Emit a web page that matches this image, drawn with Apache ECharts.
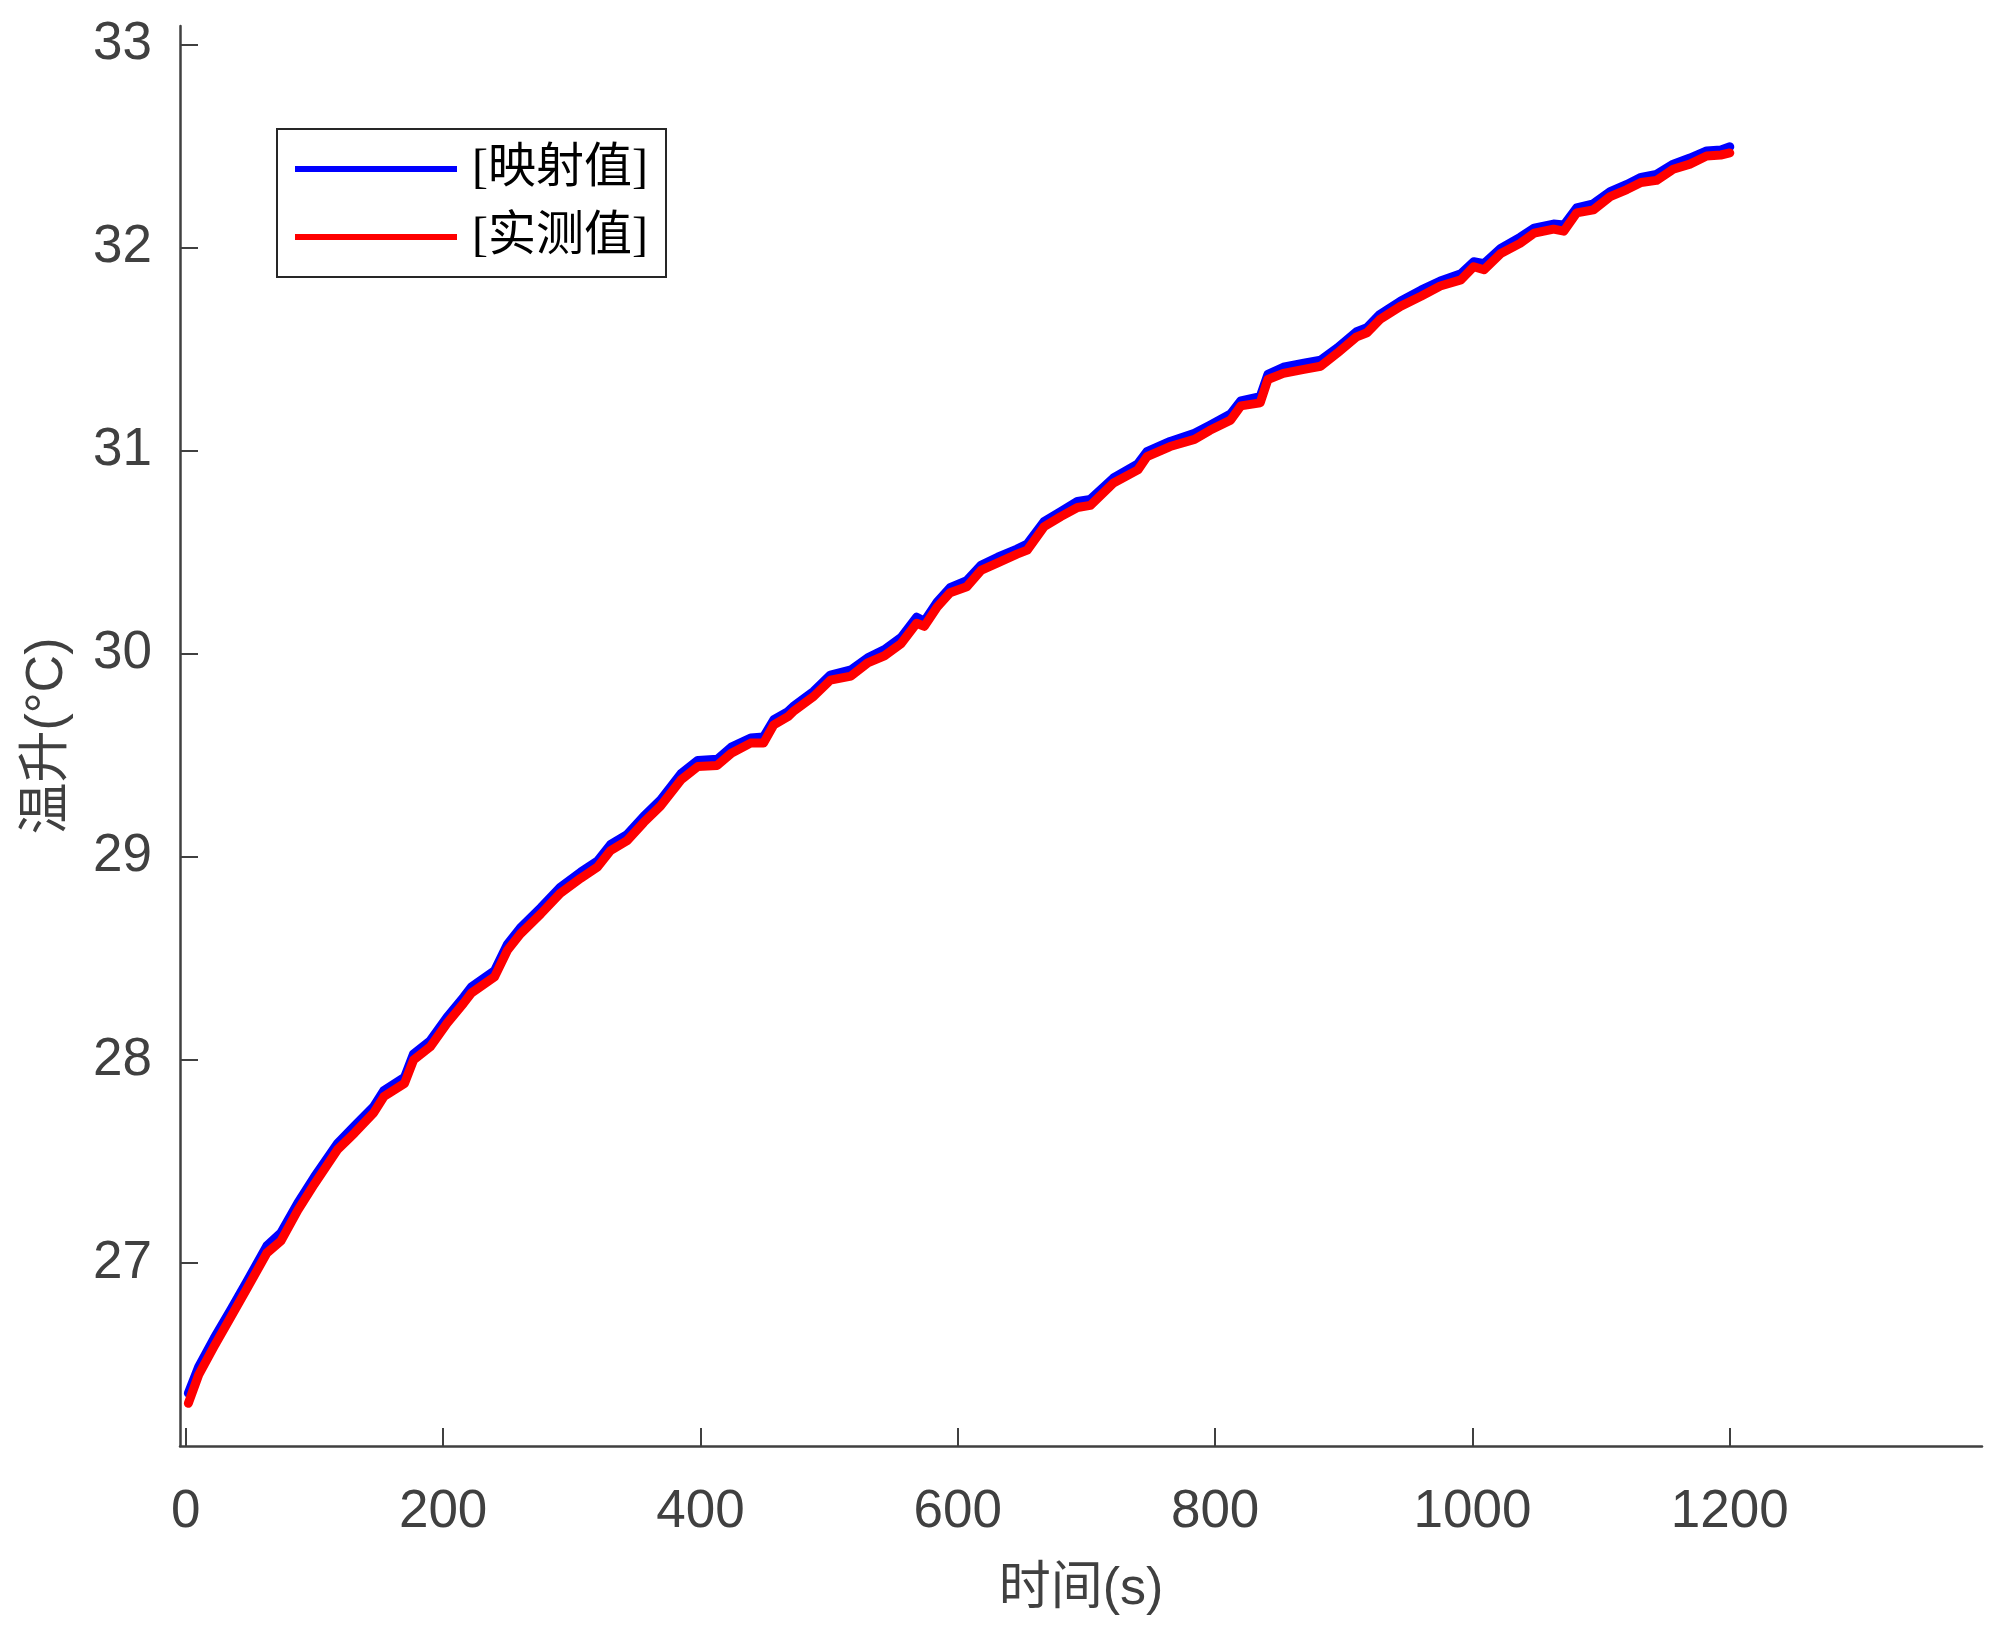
<!DOCTYPE html>
<html>
<head>
<meta charset="utf-8">
<script src="https://cdn.jsdelivr.net/npm/echarts@6/dist/echarts.min.js"></script>
<style>
  html, body { margin: 0; padding: 0; background: #fff; }
  #view { width: 2000px; height: 1638px; }
</style>
</head>
<body>
<div id="view"></div>
<script>
// time (s)
let timeList = [2, 10, 22, 35, 48, 63, 74, 87, 100, 118, 131, 146, 154, 170, 177, 190, 203, 216, 222, 240,
  250, 260, 276, 291, 307, 320, 330, 343, 356, 369, 385, 398, 413, 424, 439, 449, 457, 468, 473, 488,
  501, 517, 530, 543, 556, 568, 574, 584, 594, 607, 618, 631, 646, 654, 667, 680, 693, 703, 721, 740,
  747, 765, 784, 796, 812, 820, 835, 841, 853, 869, 882, 895, 910, 918, 928, 944, 960, 975, 991, 1001,
  1009, 1022, 1037, 1048, 1063, 1071, 1081, 1094, 1107, 1120, 1131, 1143, 1156, 1169, 1182, 1193, 1200];

// 映射值
let mapList = [26.36, 26.49, 26.63, 26.77, 26.915, 27.085, 27.15, 27.295, 27.425, 27.59, 27.675, 27.77, 27.85, 27.915, 28.03, 28.095, 28.21, 28.31, 28.36, 28.44,
  28.57, 28.65, 28.75, 28.85, 28.925, 28.98, 29.06, 29.11, 29.2, 29.28, 29.41, 29.475, 29.48, 29.54, 29.585, 29.59, 29.675, 29.715, 29.745, 29.815,
  29.895, 29.92, 29.98, 30.02, 30.08, 30.18, 30.16, 30.255, 30.325, 30.36, 30.435, 30.475, 30.515, 30.54, 30.65, 30.7, 30.75, 30.76, 30.865, 30.935,
  30.995, 31.045, 31.085, 31.125, 31.18, 31.245, 31.265, 31.375, 31.41, 31.43, 31.445, 31.505, 31.585, 31.605, 31.67, 31.735, 31.79, 31.835, 31.87, 31.93,
  31.92, 31.995, 32.05, 32.095, 32.115, 32.11, 32.195, 32.215, 32.275, 32.31, 32.345, 32.36, 32.41, 32.44, 32.475, 32.48, 32.495];

// 实测值
let measureList = [26.31, 26.45, 26.59, 26.735, 26.88, 27.05, 27.11, 27.26, 27.39, 27.56, 27.64, 27.74, 27.82, 27.885, 28.0, 28.065, 28.18, 28.28, 28.33, 28.41,
  28.54, 28.62, 28.72, 28.82, 28.895, 28.95, 29.03, 29.08, 29.17, 29.25, 29.38, 29.445, 29.45, 29.51, 29.56, 29.56, 29.65, 29.69, 29.72, 29.79,
  29.87, 29.89, 29.955, 29.99, 30.05, 30.15, 30.135, 30.23, 30.3, 30.33, 30.41, 30.447, 30.49, 30.51, 30.625, 30.675, 30.72, 30.73, 30.84, 30.905,
  30.97, 31.02, 31.055, 31.1, 31.15, 31.22, 31.235, 31.35, 31.38, 31.4, 31.415, 31.48, 31.56, 31.58, 31.645, 31.71, 31.76, 31.81, 31.84, 31.905,
  31.89, 31.97, 32.02, 32.07, 32.09, 32.08, 32.17, 32.185, 32.25, 32.285, 32.32, 32.33, 32.385, 32.41, 32.45, 32.455, 32.465];

let xTicks = [0, 200, 400, 600, 800, 1000, 1200];
let yTicks = [27, 28, 29, 30, 31, 32, 33];

let myChart = echarts.init(document.getElementById("view"));

let mapS = { name: "[映射值]", type: "line", data: [] };
let measureS = { name: "[实测值]", type: "line", data: [] };
timeList.forEach((t, i) => {
  mapS.data.push([t, mapList[i]]);
  measureS.data.push([t, measureList[i]]);
});

let axisColor = "#404040";
let numFont = "'Liberation Sans', Arial, sans-serif";

[mapS, measureS].forEach((s, i) => {
  s.showSymbol = false;
  s.animation = false;
  s.z = 2 + i;
  s.lineStyle = {
    color: i === 0 ? "#0000ff" : "#ff0000",
    width: 9,
    cap: "round",
    join: "round",
  };
  s.itemStyle = { color: i === 0 ? "#0000ff" : "#ff0000" };
});

let option = {
  backgroundColor: "#ffffff",
  animation: false,
  grid: {
    left: 180,
    right: 18,
    top: 26,
    bottom: 192,
    containLabel: false,
    outerBoundsMode: "none",
  },
  legend: {
    orient: "vertical",
    left: 277,
    top: 129,
    padding: [14, 16, 14, 18],
    itemGap: 16,
    itemWidth: 162,
    itemHeight: 6,
    icon: "rect",
    borderColor: "#262626",
    borderWidth: 2,
    backgroundColor: "#ffffff",
    data: [{ name: "[映射值]" }, { name: "[实测值]" }],
    textStyle: {
      color: "#000000",
      fontSize: 48,
      lineHeight: 52,
      fontFamily: "'Liberation Serif', 'Noto Sans CJK SC', serif",
      padding: [0, 0, 0, 10],
      width: 178,
    },
  },
  xAxis: {
    type: "value",
    min: -4.5,
    max: 1396,
    name: "时间(s)",
    nameLocation: "middle",
    nameGap: 118,
    nameTextStyle: {
      color: axisColor,
      fontSize: 52,
      fontFamily: "'Liberation Sans', 'Noto Sans CJK SC', sans-serif",
    },
    splitLine: { show: false },
    axisLine: { onZero: false, lineStyle: { color: axisColor, width: 2.5 } },
    axisTick: {
      inside: true,
      length: 18,
      customValues: xTicks,
      lineStyle: { color: axisColor, width: 2 },
    },
    axisLabel: {
      customValues: xTicks,
      formatter: (v) => String(v),
      margin: 40,
      color: axisColor,
      fontSize: 53,
      fontFamily: numFont,
    },
  },
  yAxis: {
    type: "value",
    min: 26.1,
    max: 33.09,
    name: "温升(°C)",
    nameLocation: "middle",
    nameRotate: 90,
    nameGap: 106,
    nameTextStyle: {
      color: axisColor,
      fontSize: 52,
      fontFamily: "'Liberation Sans', 'Noto Sans CJK SC', sans-serif",
    },
    splitLine: { show: false },
    axisLine: { show: true, onZero: false, lineStyle: { color: axisColor, width: 2.5 } },
    axisTick: {
      show: true,
      inside: true,
      length: 18,
      customValues: yTicks,
      lineStyle: { color: axisColor, width: 2 },
    },
    axisLabel: {
      customValues: yTicks,
      formatter: (v) => String(v),
      margin: 28,
      color: axisColor,
      fontSize: 53,
      fontFamily: numFont,
    },
  },
  series: [mapS, measureS],
};
myChart.setOption(option);
</script>
</body>
</html>
